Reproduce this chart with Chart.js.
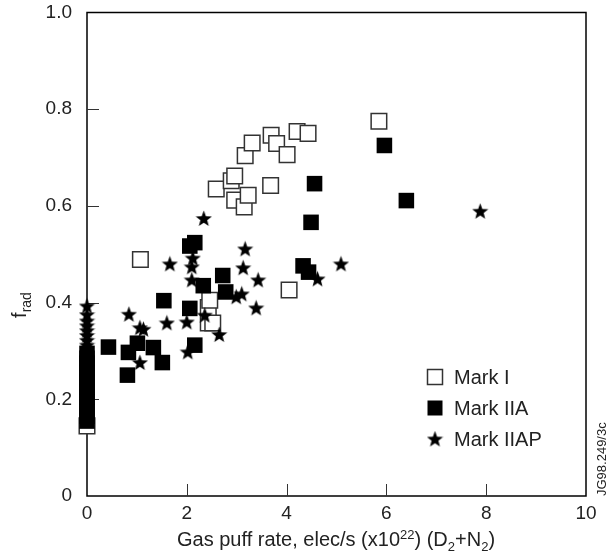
<!DOCTYPE html>
<html>
<head>
<meta charset="utf-8">
<script src="https://cdn.jsdelivr.net/npm/chart.js@4.4.1/dist/chart.umd.min.js"></script>
<style>
    html, body { margin: 0; padding: 0; background: #fff; }
</style>
</head>
<body>
<canvas id="myChart" width="607" height="553"></canvas>
<script>
// data
const markIX = [0, 1.07, 2.43, 2.52, 2.43, 2.46, 2.59, 2.89, 2.96, 2.96, 3.15, 3.23, 3.17, 3.31, 3.68, 3.69, 3.80, 4.01, 4.21, 4.43, 4.05, 5.85];
const markIY = [0.145, 0.489, 0.358, 0.358, 0.390, 0.405, 0.635, 0.652, 0.662, 0.612, 0.598, 0.622, 0.704, 0.730, 0.642, 0.746, 0.729, 0.706, 0.754, 0.750, 0.426, 0.775];

const markIIAX = [0, 0, 0, 0, 0, 0, 0, 0, 0, 0, 0, 0, 0, 0, 0,
    0.43, 0.81, 0.83, 1.01, 1.33, 1.51, 1.54, 2.06, 2.16, 2.06, 2.16, 2.33, 2.72, 2.78, 4.33, 4.44, 4.49, 4.56, 5.96, 6.40];
const markIIAY = [0.155, 0.165, 0.175, 0.185, 0.195, 0.205, 0.215, 0.225, 0.235, 0.245, 0.255, 0.265, 0.275, 0.285, 0.295,
    0.308, 0.250, 0.297, 0.316, 0.307, 0.276, 0.404, 0.388, 0.312, 0.517, 0.524, 0.435, 0.456, 0.422, 0.476, 0.463, 0.566, 0.646, 0.725, 0.611];

const markIIAPX = [0, 0, 0, 0, 0, 0, 0, 0,
    0.84, 1.06, 1.13, 1.06, 1.60, 1.66, 2.00, 2.02, 2.10, 2.12, 2.10, 2.34, 2.36, 2.65, 2.99, 3.10, 3.13, 3.17, 3.39, 3.43, 4.62, 5.09, 7.88];
const markIIAPY = [0.393, 0.375, 0.362, 0.352, 0.342, 0.332, 0.322, 0.312,
    0.376, 0.348, 0.345, 0.276, 0.358, 0.480, 0.360, 0.298, 0.474, 0.492, 0.447, 0.574, 0.374, 0.334, 0.412, 0.418, 0.472, 0.511, 0.389, 0.447, 0.449, 0.480, 0.589];

const seriesNames = ['Mark I', 'Mark IIA', 'Mark IIAP'];
const xTicks = [0, 2, 4, 6, 8, 10];
const yTicks = [0, 0.2, 0.4, 0.6, 0.8, 1.0];

const FONT = '"Liberation Sans", Arial, sans-serif';
const TEXT = '#222';

function toXY(xs, ys) {
    return xs.map((x, i) => ({ x: x, y: ys[i] }));
}

// filled five point star used as point style
function makeStar(size) {
    const c = document.createElement('canvas');
    c.width = size;
    c.height = size;
    const g = c.getContext('2d');
    const cx = size / 2, cy = size / 2 + 0.6;
    const outer = size / 2, inner = outer * 0.42;
    g.beginPath();
    for (let i = 0; i < 10; i++) {
        const r = i % 2 === 0 ? outer : inner;
        const a = -Math.PI / 2 + i * Math.PI / 5;
        const px = cx + r * Math.cos(a), py = cy + r * Math.sin(a);
        if (i === 0) g.moveTo(px, py); else g.lineTo(px, py);
    }
    g.closePath();
    g.fillStyle = '#000';
    g.fill();
    return c;
}
const starImg = makeStar(17);

function drawRich(ctx, parts, x, y, align) {
    let total = 0;
    parts.forEach(p => {
        ctx.font = p[1] + 'px ' + FONT;
        total += ctx.measureText(p[0]).width;
    });
    let cx = align === 'center' ? x - total / 2 : x;
    ctx.textAlign = 'left';
    ctx.textBaseline = 'alphabetic';
    parts.forEach(p => {
        ctx.font = p[1] + 'px ' + FONT;
        ctx.fillText(p[0], cx, y + p[2]);
        cx += ctx.measureText(p[0]).width;
    });
}

const decor = {
    id: 'decor',
    beforeDraw(chart) {
        const ctx = chart.ctx;
        ctx.save();
        ctx.fillStyle = '#fff';
        ctx.fillRect(0, 0, chart.width, chart.height);
        ctx.restore();
    },
    beforeDatasetsDraw(chart) {
        const ctx = chart.ctx;
        const a = chart.chartArea;
        const xs = chart.scales.x, ys = chart.scales.y;
        ctx.save();
        ctx.strokeStyle = '#000';
        ctx.lineWidth = 1.5;
        ctx.strokeRect(a.left, a.top, a.right - a.left, a.bottom - a.top);
        // inward tick marks
        ctx.strokeStyle = '#333';
        ctx.lineWidth = 1;
        ctx.beginPath();
        yTicks.slice(1, -1).forEach(v => {
            const py = Math.round(ys.getPixelForValue(v)) + 0.5;
            ctx.moveTo(a.left, py);
            ctx.lineTo(a.left + 12, py);
        });
        xTicks.slice(1, -1).forEach(v => {
            const px = Math.round(xs.getPixelForValue(v)) + 0.5;
            ctx.moveTo(px, a.bottom);
            ctx.lineTo(px, a.bottom - 12);
        });
        ctx.stroke();
        ctx.restore();
    },
    afterDraw(chart) {
        const ctx = chart.ctx;
        ctx.save();
        ctx.fillStyle = TEXT;

        // x axis title
        drawRich(ctx, [
            ['Gas puff rate, elec/s (x10', 20, 0],
            ['22', 13, -7],
            [') (D', 20, 0],
            ['2', 13, 5],
            ['+N', 20, 0],
            ['2', 13, 5],
            [')', 20, 0]
        ], 336, 546, 'center');

        // y axis title
        ctx.save();
        ctx.translate(26, 305);
        ctx.rotate(-Math.PI / 2);
        drawRich(ctx, [['f', 20, 0], ['rad', 14, 5]], 0, 0, 'center');
        ctx.restore();

        // figure code at the right edge
        ctx.save();
        ctx.translate(606, 496);
        ctx.rotate(-Math.PI / 2);
        ctx.font = '13px ' + FONT;
        ctx.textAlign = 'left';
        ctx.textBaseline = 'alphabetic';
        ctx.fillText('JG98.249/3c', 0, 0);
        ctx.restore();

        // legend inside the plot
        const rowY = [377, 408, 439];
        const iconX = 435;
        seriesNames.forEach((name, i) => {
            const y = rowY[i];
            if (i === 0) {
                ctx.fillStyle = '#fff';
                ctx.strokeStyle = '#333';
                ctx.lineWidth = 1.5;
                ctx.fillRect(iconX - 7.5, y - 7.5, 15, 15);
                ctx.strokeRect(iconX - 7.5, y - 7.5, 15, 15);
            } else if (i === 1) {
                ctx.fillStyle = '#000';
                ctx.fillRect(iconX - 7.5, y - 7.5, 15, 15);
            } else {
                ctx.drawImage(starImg, iconX - starImg.width / 2, y - starImg.height / 2);
            }
            ctx.fillStyle = TEXT;
            ctx.font = '20px ' + FONT;
            ctx.textAlign = 'left';
            ctx.textBaseline = 'middle';
            ctx.fillText(name, 454, y + 1);
        });
        ctx.restore();
    }
};

const ctx = document.getElementById('myChart').getContext('2d');

const myChart = new Chart(ctx, {
    type: 'scatter',
    data: {
        datasets: [{
            label: seriesNames[0],
            data: toXY(markIX, markIY),
            pointStyle: 'rect',
            pointRadius: 11,
            pointHoverRadius: 11,
            backgroundColor: '#fff',
            borderColor: '#333',
            borderWidth: 1.5,
            clip: false,
            order: 3
        }, {
            label: seriesNames[1],
            data: toXY(markIIAX, markIIAY),
            pointStyle: 'rect',
            pointRadius: 11,
            pointHoverRadius: 11,
            backgroundColor: '#000',
            borderColor: '#000',
            borderWidth: 0,
            clip: false,
            order: 2
        }, {
            label: seriesNames[2],
            data: toXY(markIIAPX, markIIAPY),
            pointStyle: starImg,
            clip: false,
            order: 1
        }]
    },
    options: {
        responsive: false,
        animation: false,
        devicePixelRatio: 1,
        layout: {
            padding: { top: 12, right: 21, left: 0, bottom: 0 }
        },
        plugins: {
            legend: { display: false },
            tooltip: { enabled: false }
        },
        scales: {
            x: {
                type: 'linear',
                min: 0,
                max: 10,
                grid: { display: false, drawTicks: false },
                border: { display: false },
                afterBuildTicks: (scale) => { scale.ticks = xTicks.map(v => ({ value: v })); },
                afterFit: (scale) => {
                    scale.height = 57;
                    scale.paddingLeft = 0;
                    scale.paddingRight = 0;
                },
                ticks: {
                    color: TEXT,
                    font: { family: FONT, size: 19 },
                    padding: 6,
                    maxRotation: 0,
                    callback: (v) => String(v)
                }
            },
            y: {
                type: 'linear',
                min: 0,
                max: 1,
                grid: { display: false, drawTicks: false },
                border: { display: false },
                afterBuildTicks: (scale) => { scale.ticks = yTicks.map(v => ({ value: v })); },
                afterFit: (scale) => {
                    scale.width = 87;
                    scale.paddingTop = 0;
                    scale.paddingBottom = 0;
                },
                ticks: {
                    color: TEXT,
                    font: { family: FONT, size: 19 },
                    padding: 15,
                    callback: (v) => v === 0 ? '0' : v.toFixed(1)
                }
            }
        }
    },
    plugins: [decor]
});
</script>
</body>
</html>
